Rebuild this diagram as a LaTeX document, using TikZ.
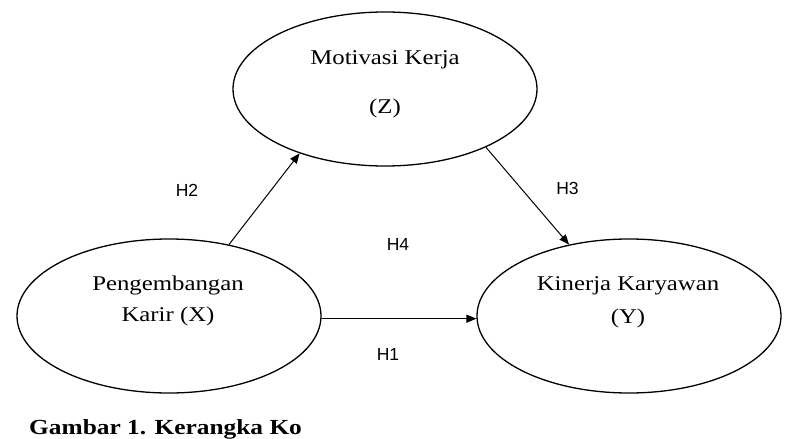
\documentclass[tikz,border=0pt]{standalone}
\usepackage{fontspec}
\setmainfont{Liberation Serif}[FakeStretch=1.18]
\newfontfamily\hsans{Liberation Sans}
\usetikzlibrary{shapes.geometric,arrows.meta}
\begin{document}
\begin{tikzpicture}[x=1pt,y=-1pt,
 var/.style={draw,ellipse,line width=1.3pt,minimum width=304pt,minimum height=154pt,inner sep=0pt},
 txt/.style={anchor=base,inner sep=0pt,font=\fontsize{21}{24}\selectfont},
 hyp/.style={anchor=base,inner sep=0pt,font=\hsans\fontsize{17.5}{20}\selectfont},
 captxt/.style={anchor=base west,inner sep=0pt,font=\bfseries\fontsize{21.5}{24}\selectfont},
 conn/.style={line width=1pt,-{Triangle[length=10pt,width=8pt]}}]
\useasboundingbox (0,0) rectangle (801,439);
\fill[white] (0,0) rectangle (801,439);
\node[var] (Z) at (385,89) {};
\node[var] (X) at (169,316) {};
\node[var] (Y) at (629,316) {};
\node[txt] (Z1) at (385,64) {Motivasi Kerja};
\node[txt] (Z2) at (385,113) {(Z)};
\node[txt] (X1) at (168,290) {Pengembangan};
\node[txt] (X2) at (168,321) {Karir (X)};
\node[txt] (Y1) at (628,290) {Kinerja Karyawan};
\node[txt] (Y2) at (628,323) {(Y)};
\draw[conn] (X.50.3) -- (Z.217.6);
\draw[conn] (Z.330) -- (Y.130.7);
\draw[conn] (X.-1) -- (Y.181);
\node[hyp] (H2) at (187,196) {H2};
\node[hyp] (H3) at (567.5,194) {H3};
\node[hyp] (H4) at (398,250) {H4};
\node[hyp] (H1) at (388,360) {H1};
\node[captxt] (C) at (29,434) {Gambar 1. Kerangka Ko};
\end{tikzpicture}
\end{document}
